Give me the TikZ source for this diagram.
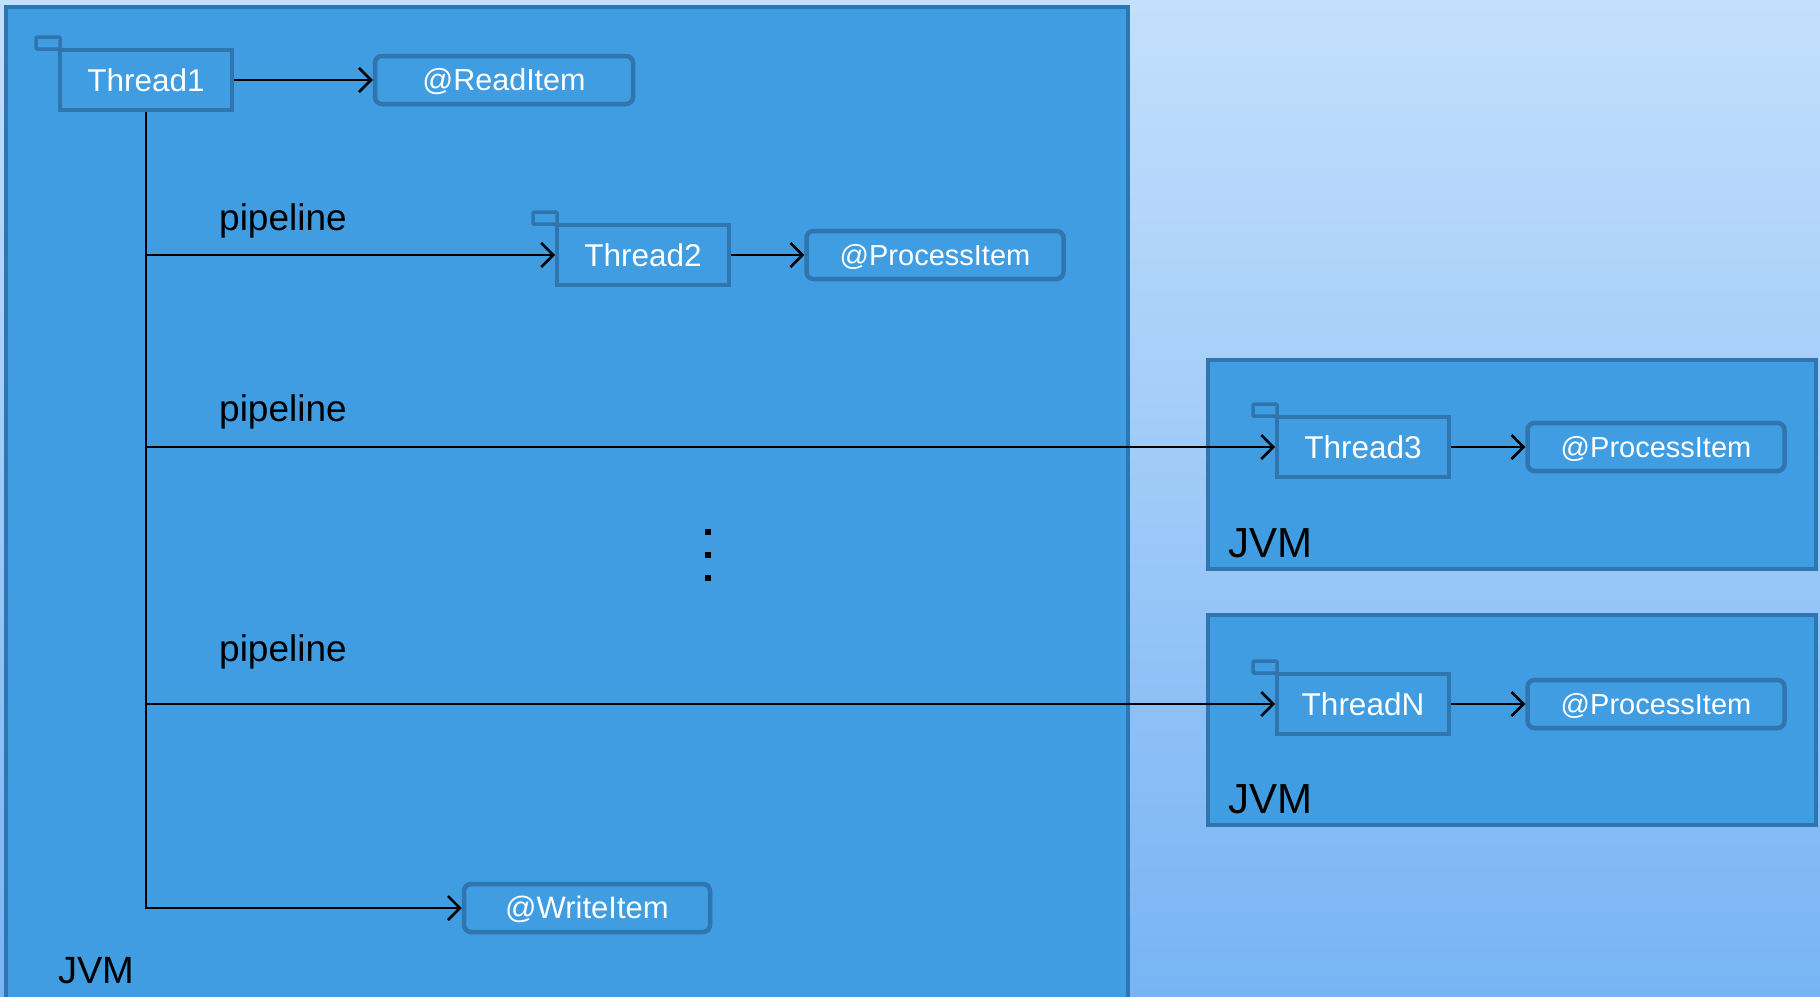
\documentclass[tikz,border=0pt]{standalone}
\usepackage{fontspec}
\setmainfont{Liberation Sans}
\usetikzlibrary{positioning,arrows.meta}
\definecolor{bgtop}{HTML}{C3DFFC}
\definecolor{bgbot}{HTML}{78B4F4}
\definecolor{jvmfill}{HTML}{409DE2}
\definecolor{jvmline}{HTML}{2F75AF}
\tikzset{
  jvm/.style={draw=jvmline, line width=4pt, fill=jvmfill},
  thread/.style={draw=jvmline, line width=4pt, fill=jvmfill,
    minimum width=172pt, minimum height=60pt, text=white,
    text height=22pt, text depth=0pt,
    font=\fontsize{31.5}{38}\selectfont},
  tab/.style={draw=jvmline, line width=3.5pt, fill=jvmfill, rounded corners=1pt},
  item/.style={draw=jvmline, line width=4.5pt, fill=jvmfill, rounded corners=7pt,
    minimum width=#1, minimum height=48pt, text=white,
    text height=21pt, text depth=0pt,
    font=\fontsize{29}{35}\selectfont},
  lbl/.style={anchor=base west, inner sep=0pt, font=\fontsize{37}{43}\selectfont},
  flow/.style={line width=2.5pt, -{Straight Barb[length=12pt,width=24pt,line width=2.5pt]}},
  dotsq/.style={fill=black, minimum size=6.5pt, inner sep=0pt}
}
\newcommand{\threadtab}[1]{\draw[tab] ([shift={(-22pt,11pt)}]#1.north west) rectangle ([shift={(2pt,-1pt)}]#1.north west);}

\begin{document}
\begin{tikzpicture}[x=1pt,y=-1pt]
  \useasboundingbox (0,0) rectangle (1820,996);
  \clip (0,0) rectangle (1820,996);
  \shade[top color=bgtop, bottom color=bgbot] (0,0) rectangle (1820,996);

  % JVMs
  \draw[jvm] (6,7) rectangle (1128,1010);
  \draw[jvm] (1208,360) rectangle (1816,569);
  \draw[jvm] (1208,615) rectangle (1816,825);
  \node[lbl, font=\fontsize{38}{44}\selectfont] (JVM1) at (58,983) {JVM};
  \node[lbl, font=\fontsize{42}{48}\selectfont] (JVM2) at (1228,557) {JVM};
  \node[lbl, font=\fontsize{42}{48}\selectfont] (JVM3) at (1228,813) {JVM};

  % threads and steps
  \node[thread] (T1) at (146,80) {Thread1};
  \threadtab{T1}
  \node[item=258pt, on grid, right=358pt of T1, font=\fontsize{30.5}{36}\selectfont] (RI) {@ReadItem};

  \node[thread, on grid, below right=175pt and 497pt of T1] (T2) {Thread2};
  \threadtab{T2}
  \node[item=257pt, on grid, right=292pt of T2] (PI2) {@ProcessItem};

  \node[thread] (T3) at (1363,447) {Thread3};
  \threadtab{T3}
  \node[item=257pt, on grid, right=293pt of T3] (PI3) {@ProcessItem};

  \node[thread] (TN) at (1363,704) {ThreadN};
  \threadtab{TN}
  \node[item=257pt, on grid, right=293pt of TN] (PIN) {@ProcessItem};

  \node[item=246pt, font=\fontsize{31}{37}\selectfont] (WI) at (587,908) {@WriteItem};

  \node[lbl] (P2) at (219,230) {pipeline};
  \node[lbl] (P3) at (219,421) {pipeline};
  \node[lbl] (PN) at (219,661) {pipeline};

  \foreach \y [count=\i] in {532,555,578}
    \node[dotsq] (dot\i) at (708,\y) {};

  % connectors
  \draw[flow] (T1) -- (RI);
  \draw[flow] (T1.south) -- (T1 |- WI) -- (WI);
  \draw[flow] (T1 |- T2) -- (T2);
  \draw[flow] (T1 |- T3) -- (T3);
  \draw[flow] (T1 |- TN) -- (TN);
  \draw[flow] (T2) -- (PI2);
  \draw[flow] (T3) -- (PI3);
  \draw[flow] (TN) -- (PIN);
\end{tikzpicture}
\end{document}
